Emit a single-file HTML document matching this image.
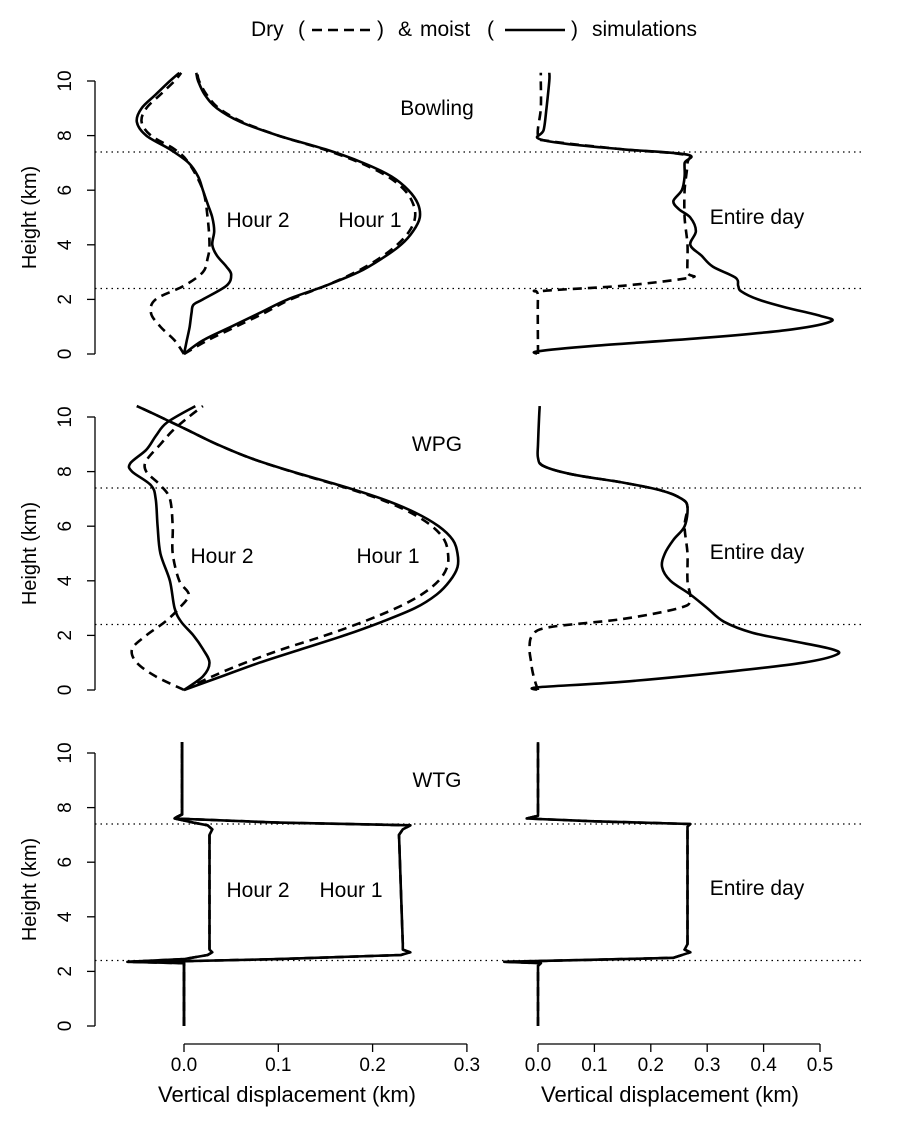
<!DOCTYPE html>
<html><head><meta charset="utf-8"><style>
html,body{margin:0;padding:0;background:#fff;}
svg text{font-family:"Liberation Sans",Arial,sans-serif;fill:#000;}
</style></head><body>
<svg id="chart" width="900" height="1125" viewBox="0 0 900 1125" xmlns="http://www.w3.org/2000/svg">
<g>
<text x="251" y="36" font-size="21">Dry</text>
<text x="298" y="36" font-size="21">(</text>
<line x1="312" y1="30" x2="372" y2="30" stroke="#000" stroke-width="2.5" stroke-dasharray="10,6"/>
<text x="377" y="36" font-size="21">)</text>
<text x="398" y="36" font-size="21">&amp;</text>
<text x="420" y="36" font-size="21">moist</text>
<text x="487" y="36" font-size="21">(</text>
<line x1="505" y1="30" x2="565" y2="30" stroke="#000" stroke-width="2.5"/>
<text x="571" y="36" font-size="21">)</text>
<text x="592" y="36" font-size="21">simulations</text>
</g>
<g id="plots"></g>
</svg>
<script>
const bowH1solidH=[0,0.5,1,1.5,2,2.5,3,3.5,4,4.5,5,5.5,6,6.5,7,7.5,8,8.5,9,9.5,10,10.3];
const bowH1solidV=[0,0.02,0.05,0.08,0.11,0.15,0.185,0.21,0.23,0.243,0.25,0.248,0.238,0.22,0.19,0.15,0.1,0.06,0.035,0.022,0.015,0.013];
const bowH1dryV=[0,0.025,0.055,0.085,0.113,0.15,0.182,0.207,0.226,0.239,0.245,0.243,0.234,0.216,0.187,0.148,0.1,0.062,0.037,0.024,0.016,0.014];
const bowH2solidH=[0,0.5,1,1.5,1.8,2,2.5,2.9,3.2,3.6,4,4.5,5,5.5,6,6.5,7,7.5,8,8.5,9,9.5,10,10.3];
const bowH2solidV=[0,0.003,0.006,0.008,0.01,0.02,0.045,0.05,0.045,0.035,0.03,0.032,0.03,0.025,0.02,0.015,0.005,-0.015,-0.04,-0.05,-0.045,-0.03,-0.015,-0.005];
const bowH2dryH=[0,0.5,1,1.5,2,2.5,3,3.5,4,5,6,7,7.5,8,8.5,9,9.5,10,10.3];
const bowH2dryV=[0,-0.01,-0.025,-0.035,-0.03,0.0,0.02,0.025,0.027,0.025,0.02,0.005,-0.01,-0.035,-0.045,-0.04,-0.025,-0.01,-0.003];
const bowDaySolidH=[0,0.1,0.3,0.6,0.9,1.2,1.4,1.7,2,2.3,2.5,2.8,3.2,3.6,4,4.5,5,5.3,5.6,6,6.5,7,7.3,7.5,7.7,7.9,8.2,9,10,10.3];
const bowDaySolidV=[0,0,0.1,0.3,0.45,0.52,0.5,0.44,0.39,0.36,0.355,0.35,0.31,0.29,0.27,0.28,0.27,0.25,0.24,0.255,0.26,0.26,0.265,0.15,0.05,0,0.01,0.015,0.02,0.02];
const bowDayDryH=[0,2.1,2.3,2.5,2.8,3,4,5,6,7,7.3,7.5,7.8,8,9,10,10.3];
const bowDayDryV=[0,0,0.005,0.15,0.27,0.265,0.265,0.26,0.26,0.265,0.26,0.15,0.02,0,0.005,0.005,0.005];
const wpgH1H=[0,0.5,1,1.5,2,2.5,3,3.5,4,4.5,5,5.5,6,6.5,7,7.5,8,8.5,9,9.5,10,10.4];
const wpgH1solidV=[0,0.04,0.08,0.125,0.17,0.21,0.245,0.268,0.282,0.29,0.29,0.285,0.27,0.245,0.21,0.165,0.115,0.07,0.035,0.005,-0.025,-0.05];
const wpgH1dryV=[0,0.03,0.065,0.105,0.15,0.19,0.225,0.252,0.27,0.279,0.28,0.276,0.263,0.24,0.207,0.163,0.114,0.07,0.035,0.005,-0.025,-0.05];
const wpgH2solidH=[0,0.5,1,1.5,2,2.5,3,4,5,6,7,7.5,8,8.3,8.8,9.3,9.8,10.4];
const wpgH2solidV=[0,0.02,0.027,0.02,0.01,-0.003,-0.01,-0.015,-0.025,-0.028,-0.03,-0.035,-0.055,-0.057,-0.04,-0.03,-0.018,0.012];
const wpgH2dryH=[0,0.5,1,1.5,2,2.5,3,3.5,4,5,6,7,7.5,8,8.4,9,9.5,10,10.4];
const wpgH2dryV=[0,-0.03,-0.05,-0.055,-0.04,-0.02,-0.005,0.005,-0.005,-0.012,-0.012,-0.015,-0.025,-0.04,-0.04,-0.025,-0.012,0.005,0.02];
const wpgDaySolidH=[0,0.1,0.3,0.7,1,1.3,1.5,1.8,2.1,2.5,3,3.5,4,4.5,5,5.5,6,6.7,7,7.3,7.6,7.9,8.2,8.5,9,10,10.4];
const wpgDaySolidV=[0,0,0.15,0.35,0.47,0.53,0.52,0.45,0.38,0.33,0.3,0.27,0.235,0.22,0.225,0.24,0.26,0.265,0.255,0.22,0.15,0.06,0.01,0,0,0.002,0.003];
const wpgDayDryH=[0,0.3,0.7,1,1.5,2,2.3,2.6,3,3.3,4,5,6,6.7,7,7.3,7.6,7.9,8.2,8.5];
const wpgDayDryV=[0,-0.005,-0.01,-0.012,-0.015,-0.01,0.02,0.15,0.25,0.27,0.265,0.265,0.26,0.265,0.255,0.22,0.15,0.06,0.01,0];
const wtgH1H=[0,2.3,2.35,2.45,2.6,2.7,2.8,3,5,7,7.2,7.35,7.45,7.6,7.65,7.75,10.4];
const wtgH1V=[0,0,-0.03,0.1,0.23,0.24,0.232,0.232,0.23,0.228,0.232,0.24,0.1,-0.01,-0.008,-0.002,-0.002];
const wtgH2H=[0,2.3,2.35,2.45,2.6,2.7,2.8,3,5,7,7.2,7.35,7.45,7.6,7.65,7.75,10.4];
const wtgH2V=[0,0,-0.06,0.0,0.025,0.03,0.027,0.027,0.027,0.027,0.03,0.025,0.01,-0.01,-0.008,-0.002,-0.002];
const wtgDayH=[0,2.2,2.3,2.35,2.45,2.5,2.7,2.8,3,5,7,7.3,7.4,7.5,7.6,7.7,10.4];
const wtgDayV=[0,0,0.005,-0.06,0.15,0.24,0.27,0.26,0.265,0.265,0.265,0.265,0.27,0.1,-0.02,0,0];
const leftTicks=["0.0","0.1","0.2","0.3"];
const rightTicks=["0.0","0.1","0.2","0.3","0.4","0.5"];
const yTicks=[0,2,4,6,8,10];
const dottedHeights=[7.4,2.4];

const NS="http://www.w3.org/2000/svg";
const g=document.getElementById('plots');
const panelBase=[354,690,1026];
function yS(p,h){return panelBase[p]-h*27.3;}
function xL(v){return 184+v*943;}
function xR(v){return 538+v*564;}
function mk(tag,attrs){const e=document.createElementNS(NS,tag);for(const k in attrs)e.setAttribute(k,attrs[k]);g.appendChild(e);return e;}
function smoothPath(P){
  let d='M'+P[0][0].toFixed(1)+','+P[0][1].toFixed(1);
  for(let i=0;i<P.length-1;i++){
    const p0=P[Math.max(0,i-1)],p1=P[i],p2=P[i+1],p3=P[Math.min(P.length-1,i+2)];
    const c1=[p1[0]+(p2[0]-p0[0])/6,p1[1]+(p2[1]-p0[1])/6];
    const c2=[p2[0]-(p3[0]-p1[0])/6,p2[1]-(p3[1]-p1[1])/6];
    d+=' C'+c1[0].toFixed(1)+','+c1[1].toFixed(1)+' '+c2[0].toFixed(1)+','+c2[1].toFixed(1)+' '+p2[0].toFixed(1)+','+p2[1].toFixed(1);
  }
  return d;
}
function line(p,H,V,xs,dashed,name,smooth){
  const P=H.map((h,i)=>[xs(V[i]),yS(p,h)]);
  let e;
  if(smooth){e=mk('path',{d:smoothPath(P),fill:'none',stroke:'#000','stroke-width':2.6,'stroke-linejoin':'round'});}
  else{e=mk('polyline',{points:P.map(q=>q[0].toFixed(1)+','+q[1].toFixed(1)).join(' '),fill:'none',stroke:'#000','stroke-width':2.6,'stroke-linejoin':'round'});}
  if(dashed)e.setAttribute('stroke-dasharray','9,6');
  
  
}
function txt(x,y,s,name,extra){const e=mk('text',Object.assign({x:x,y:y,'font-size':21,'text-anchor':'middle'},extra||{}));e.textContent=s;
  
  
  return e;}
for(let p=0;p<3;p++){
  const ax=mk('line',{x1:95,y1:yS(p,0),x2:95,y2:yS(p,10),stroke:'#000','stroke-width':1.3});
  
  
  yTicks.forEach(t=>{
    const tk=mk('line',{x1:87,y1:yS(p,t),x2:95,y2:yS(p,t),stroke:'#000','stroke-width':1.3});
    
    
    txt(0,0,String(t),'y-tick-label',{transform:'translate(71,'+yS(p,t)+') rotate(-90)','font-size':19});
  });
  txt(0,0,'Height (km)','y-axis-title',{transform:'translate(36,'+yS(p,5)+') rotate(-90)','font-size':20});
  dottedHeights.forEach(h=>{
    const d=mk('line',{x1:95,y1:yS(p,h),x2:862,y2:yS(p,h),stroke:'#000','stroke-width':1.2,'stroke-dasharray':'1.5,4'});
    
    
  });
}
function xaxis(xs,ticks,name){
  const a=mk('line',{x1:xs(0),y1:1044,x2:xs((ticks.length-1)*0.1),y2:1044,stroke:'#000','stroke-width':1.3});
  
  
  ticks.forEach((t,i)=>{
    const tk=mk('line',{x1:xs(i*0.1),y1:1044,x2:xs(i*0.1),y2:1052,stroke:'#000','stroke-width':1.3});
    
    
    txt(xs(i*0.1),1071,t,'x-tick-label',{'font-size':19});
  });
}
xaxis(xL,leftTicks,'x-axis-left');
xaxis(xR,rightTicks,'x-axis-right');
txt(287,1102,'Vertical displacement (km)','x-axis-title-left',{'font-size':22});
txt(670,1102,'Vertical displacement (km)','x-axis-title-right',{'font-size':22});
line(0,bowH1solidH,bowH1dryV,xL,true,'bowling-hour1-dry',true);
line(0,bowH1solidH,bowH1solidV,xL,false,'bowling-hour1-moist',true);
line(0,bowH2dryH,bowH2dryV,xL,true,'bowling-hour2-dry',true);
line(0,bowH2solidH,bowH2solidV,xL,false,'bowling-hour2-moist',true);
line(0,bowDayDryH,bowDayDryV,xR,true,'bowling-day-dry',true);
line(0,bowDaySolidH,bowDaySolidV,xR,false,'bowling-day-moist',true);
line(1,wpgH1H,wpgH1dryV,xL,true,'wpg-hour1-dry',true);
line(1,wpgH1H,wpgH1solidV,xL,false,'wpg-hour1-moist',true);
line(1,wpgH2dryH,wpgH2dryV,xL,true,'wpg-hour2-dry',true);
line(1,wpgH2solidH,wpgH2solidV,xL,false,'wpg-hour2-moist',true);
line(1,wpgDayDryH,wpgDayDryV,xR,true,'wpg-day-dry',true);
line(1,wpgDaySolidH,wpgDaySolidV,xR,false,'wpg-day-moist',true);
line(2,wtgH1H,wtgH1V,xL,true,'wtg-hour1-dry',false);
line(2,wtgH1H,wtgH1V,xL,false,'wtg-hour1-moist',false);
line(2,wtgH2H,wtgH2V,xL,true,'wtg-hour2-dry',false);
line(2,wtgH2H,wtgH2V,xL,false,'wtg-hour2-moist',false);
line(2,wtgDayH,wtgDayV,xR,true,'wtg-day-dry',false);
line(2,wtgDayH,wtgDayV,xR,false,'wtg-day-moist',false);
txt(437,115,'Bowling','panel-title-bowling');
txt(258,227,'Hour 2','label-hour2');
txt(370,227,'Hour 1','label-hour1');
txt(757,224,'Entire day','label-entire-day');
txt(437,451,'WPG','panel-title-wpg');
txt(222,563,'Hour 2','label-hour2');
txt(388,563,'Hour 1','label-hour1');
txt(757,559,'Entire day','label-entire-day');
txt(437,787,'WTG','panel-title-wtg');
txt(258,897,'Hour 2','label-hour2');
txt(351,897,'Hour 1','label-hour1');
txt(757,895,'Entire day','label-entire-day');
</script>
</body></html>
